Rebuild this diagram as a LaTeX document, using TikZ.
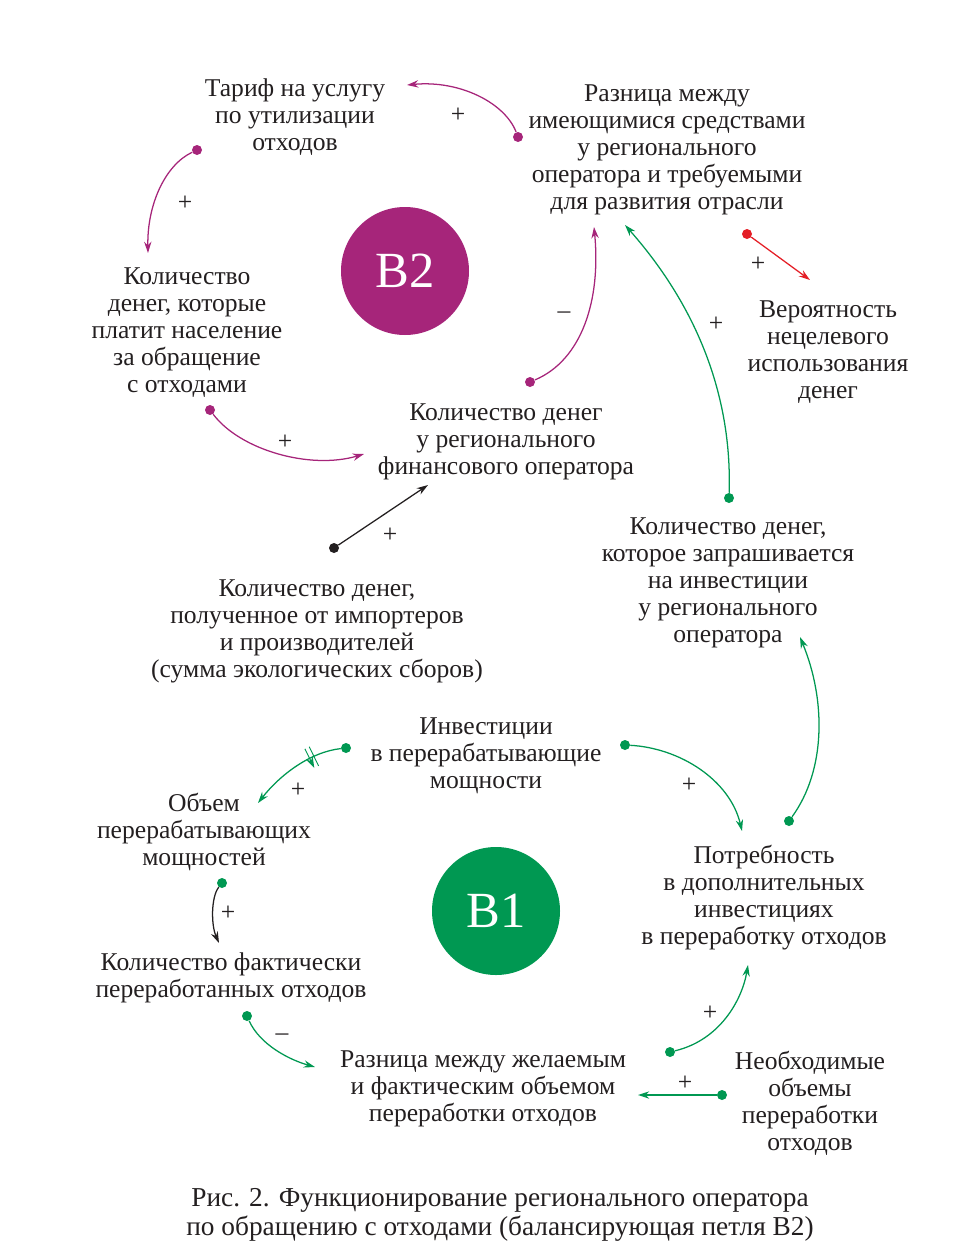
\documentclass[tikz,border=0pt]{standalone}
\usepackage{fontspec}
\setmainfont{Liberation Serif}
\usepackage{tikz}
\usetikzlibrary{arrows.meta,decorations.markings}
\definecolor{loopmag}{RGB}{166,37,122}
\definecolor{loopgreen}{RGB}{0,152,82}
\definecolor{linkred}{RGB}{228,30,38}
\definecolor{inkgray}{RGB}{35,31,32}
\tikzset{
  vartext/.style={align=center,inner sep=0pt,yshift=-2.2pt,text=inkgray,font=\fontsize{19.2}{20.25}\selectfont},
  signtext/.style={inner sep=0pt,text=inkgray,font=\fontsize{19.2}{20.25}\selectfont},
  captext/.style={align=center,inner sep=0pt,yshift=-2.2pt,text=inkgray,font=\fontsize{20.5}{21.75}\selectfont},
  loopB/.style={circle,minimum size=96pt,inner sep=0pt,text=white,font=\fontsize{38}{38}\selectfont},
  dotm/.style={circle,fill=loopmag,minimum size=7.5pt,inner sep=0pt},
  dotg/.style={circle,fill=loopgreen,minimum size=7.5pt,inner sep=0pt},
  dotr/.style={circle,fill=linkred,minimum size=7.5pt,inner sep=0pt},
  dotk/.style={circle,fill=inkgray,minimum size=7.5pt,inner sep=0pt},
  linkarr/.style={-{Stealth[length=8.5pt,width=5.5pt]},line width=0.95pt},
  magarr/.style={linkarr,draw=loopmag},
  greenarr/.style={linkarr,draw=loopgreen},
  redarr/.style={linkarr,draw=linkred},
  blackarr/.style={linkarr,draw=inkgray},
  delayarr/.style={greenarr,postaction={decorate},decoration={markings,
    mark=at position 0.3 with {\draw[loopgreen,line width=0.7pt] (-1.8pt,-8pt)--(-1.8pt,8pt) (1.8pt,-8pt)--(1.8pt,8pt);}}}
}

\begin{document}
\begin{tikzpicture}[x=0.75pt,y=-0.75pt]
  \useasboundingbox (0,0) rectangle (980,1260);

  %% Loop B2: money of the regional operator
  \node[vartext] (tarif) at (295,114) {Тариф на услугу\\по утилизации\\отходов};
  \node[vartext] (gap) at (667,147) {Разница между\\имеющимися средствами\\у регионального\\оператора и требуемыми\\для развития отрасли};
  \node[vartext] (pay) at (187,330) {Количество\\денег, которые\\платит население\\за обращение\\с отходами};
  \node[vartext] (misuse) at (828,349) {Вероятность\\нецелевого\\использования\\денег};
  \node[vartext] (fund) at (506,439) {Количество денег\\у регионального\\финансового оператора};
  \node[vartext] (fees) at (317,628) {Количество денег,\\полученное от импортеров\\и производителей\\(сумма экологических сборов)};
  \node[vartext] (request) at (728,580) {Количество денег,\\которое запрашивается\\на инвестиции\\у регионального\\оператора};
  \node[loopB,fill=loopmag] (b2) at (405,271) {B2};

  %% Loop B1: processing capacity
  \node[vartext] (invest) at (486,753) {Инвестиции\\в перерабатывающие\\мощности};
  \node[vartext] (capac) at (204,829) {Объем\\перерабатывающих\\мощностей};
  \node[vartext] (need) at (764,895) {Потребность\\в дополнительных\\инвестициях\\в переработку отходов};
  \node[vartext] (actual) at (231,975) {Количество фактически\\переработанных отходов};
  \node[vartext] (diff) at (483,1086) {Разница между желаемым\\и фактическим объемом\\переработки отходов};
  \node[vartext] (target) at (810,1100) {Необходимые\\объемы\\переработки\\отходов};
  \node[loopB,fill=loopgreen] (b1) at (496,911) {B1};

  \node[captext] (caption) at (500,1212) {Рис. 2. Функционирование регионального оператора\\по обращению с отходами (балансирующая петля B2)};

  %% link start dots
  \node[dotm] (gapout) at (518,137) {};
  \node[dotm] (tarout) at (197,150) {};
  \node[dotm] (payout) at (210,410) {};
  \node[dotm] (fundout) at (530,382) {};
  \node[dotk] (feesout) at (334,548) {};
  \node[dotg] (reqout) at (729,498) {};
  \node[dotr] (gapout2) at (747,234) {};
  \node[dotg] (needout) at (789,821) {};
  \node[dotg] (invout) at (625,745) {};
  \node[dotg] (invout2) at (346,748) {};
  \node[dotg] (capout) at (222,883) {};
  \node[dotg] (actout) at (247,1016) {};
  \node[dotg] (diffout) at (670,1052) {};
  \node[dotg] (targout) at (722,1095) {};

  %% link ends
  \coordinate (tarin) at (407,85);
  \coordinate (payin) at (148,253);
  \coordinate (fundin) at (364,454);
  \coordinate (gapin) at (594,227);
  \coordinate (fundin2) at (428,485);
  \coordinate (gapin2) at (625,225);
  \coordinate (misin) at (810,280);
  \coordinate (reqin) at (800,637);
  \coordinate (needin) at (742,831);
  \coordinate (capin) at (258,803);
  \coordinate (actin) at (219,943);
  \coordinate (diffin) at (315,1067);
  \coordinate (needin2) at (748,965);
  \coordinate (diffin2) at (638,1095);

  \draw[magarr] (gapout) .. controls (505,103) and (460,80) .. (tarin);
  \draw[magarr] (tarout) .. controls (165,165) and (147,205) .. (payin);
  \draw[magarr] (payout) .. controls (240,450) and (310,470) .. (fundin);
  \draw[magarr] (fundout) .. controls (582,360) and (601,300) .. (gapin);
  \draw[blackarr] (feesout) -- (fundin2);
  \draw[greenarr] (reqout) .. controls (732,400) and (700,310) .. (gapin2);
  \draw[redarr] (gapout2) -- (misin);
  \draw[greenarr] (needout) .. controls (826,770) and (826,700) .. (reqin);
  \draw[greenarr] (invout) .. controls (680,748) and (730,780) .. (needin);
  \draw[delayarr] (invout2) .. controls (310,752) and (280,775) .. (capin);
  \draw[blackarr] (capout) .. controls (211,897) and (211,925) .. (actin);
  \draw[greenarr] (actout) .. controls (260,1045) and (290,1060) .. (diffin);
  \draw[greenarr] (diffout) .. controls (720,1040) and (742,1000) .. (needin2);
  \draw[greenarr] (targout) -- (diffin2);

  %% polarity signs
  \node[signtext] (s1) at (458,115) {+};
  \node[signtext] (s2) at (185,203) {+};
  \node[signtext] (s3) at (285,442) {+};
  \node[signtext] (s4) at (564,315) {–};
  \node[signtext] (s5) at (390,535) {+};
  \node[signtext] (s6) at (716,324) {+};
  \node[signtext] (s7) at (758,264) {+};
  \node[signtext] (s9) at (689,785) {+};
  \node[signtext] (s10) at (298,790) {+};
  \node[signtext] (s11) at (228,913) {+};
  \node[signtext] (s12) at (282,1037) {–};
  \node[signtext] (s13) at (710,1013) {+};
  \node[signtext] (s14) at (685,1083) {+};
\end{tikzpicture}
\end{document}
